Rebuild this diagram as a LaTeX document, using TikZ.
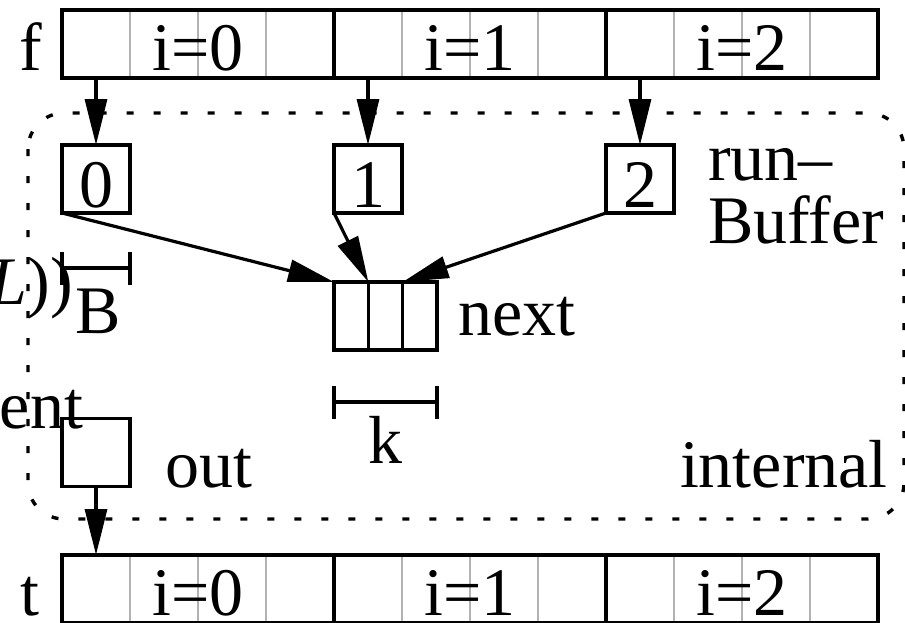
\documentclass[tikz,border=0pt]{standalone}
\usepackage{fontspec}
\setmainfont{Liberation Serif}
\usetikzlibrary{arrows.meta}
\newcommand{\figfont}{\fontsize{68pt}{72pt}\selectfont}
\tikzset{
  lw/.style={line width=3.2pt},
  cell/.style={draw=none, minimum width=68pt, minimum height=68pt, inner sep=0pt, outer sep=0pt},
  ncell/.style={draw, lw, minimum width=34.33pt, minimum height=68pt, inner sep=0pt, outer sep=0pt},
  bufbox/.style={draw, lw, minimum width=68pt, minimum height=68pt, inner sep=0pt, outer sep=0pt,
    font=\figfont, text height=56pt, text depth=0pt},
  divider/.style={draw=black!30, line width=2.4pt},
  blockframe/.style={draw, lw},
  arr/.style={lw, -{Triangle[length=46pt, width=22pt]}, shorten >=0pt},
  txt/.style={font=\figfont, inner sep=0pt, outer sep=0pt},
  frame/.style={line width=3.4pt, dash pattern=on 7pt off 20pt, rounded corners=36pt},
  dim/.style={lw},
}
\begin{document}
\begin{tikzpicture}[x=1pt, y=-1pt]
\useasboundingbox (0,0) rectangle (905,622);
\clip (0,0) rectangle (905,622);

% dotted outline of the internal memory
\draw[frame] (28,113) rectangle (904,519);

% input array f and output array t: 12 cells in 3 blocks of 4
\foreach \i in {0,...,11} {
  \node[cell] (f\i) at (96+68*\i, 44) {};
  \node[cell] (t\i) at (96+68*\i, 589) {};
}
\foreach \a/\b in {0/1,1/2,2/3,4/5,5/6,6/7,8/9,9/10,10/11} {
  \draw[divider] (f\a.north east) -- (f\a.south east);
  \draw[divider] (t\a.north east) -- (t\a.south east);
}
\foreach \s/\e/\m/\k in {0/3/1/0, 4/7/5/1, 8/11/9/2} {
  \draw[blockframe] (f\s.north west) rectangle (f\e.south east);
  \draw[blockframe] (t\s.north west) rectangle (t\e.south east);
  \node[txt, anchor=base] (fl\k) at (f\m.east |- 0,70) {i=\k};
  \node[txt, anchor=base] (tl\k) at (t\m.east |- 0,615) {i=\k};
}
\node[txt, anchor=base] (flab) at (31,70) {f};
\node[txt, anchor=base] (tlab) at (30,615) {t};

% run buffers
\node[bufbox] (b0) at (96,179) {0};
\node[bufbox] (b1) at (368,179) {1};
\node[bufbox] (b2) at (640,179) {2};
\node[txt, anchor=base west] (runl) at (708,180) {run–};
\node[txt, anchor=base west] (bufl) at (708,243) {Buffer};

% next buffer with k entries
\node[ncell] (n0) at (351.17,316) {};
\node[ncell] (n1) at (385.5,316) {};
\node[ncell] (n2) at (419.83,316) {};
\node[txt, anchor=base west] (nextl) at (458,335) {next};

% output buffer
\node[bufbox] (out) at (96,452.5) {};
\node[txt, anchor=base west] (outl) at (165,487) {out};
\node[txt, anchor=base west] (intl) at (680,487) {internal};

% side notes running in from the left
\node[txt, anchor=base east] (ment) at (83,428) {ment};
\node[txt, anchor=base east] (lnote) at (73,304) {\textit{L}))};

% size markers B and k
\coordinate (bl) at (62,268);
\coordinate (br) at (130,268);
\draw[dim] (bl) -- (br);
\draw[dim] ([yshift=-17pt]bl) -- ([yshift=16pt]bl);
\draw[dim] ([yshift=-17pt]br) -- ([yshift=16pt]br);
\node[txt, anchor=base west] (bsz) at (75,333) {B};

\coordinate (kl) at (334,402);
\coordinate (kr) at (437,402);
\draw[dim] (kl) -- (kr);
\draw[dim] ([yshift=-17pt]kl) -- ([yshift=16pt]kl);
\draw[dim] ([yshift=-17pt]kr) -- ([yshift=16pt]kr);
\node[txt, anchor=base] (ksz) at (385.5,463) {k};

% data flow
\draw[arr] (f0.south) -- (b0.north);
\draw[arr] (f4.south) -- (b1.north);
\draw[arr] (f8.south) -- (b2.north);
\draw[arr] (b0.south west) -- (n0.north west);
\draw[arr] (b1.south west) -- (n1.north west);
\draw[arr] (b2.south west) -- (n2.north west);
\draw[arr] (out.south) -- (t0.north);
\end{tikzpicture}
\end{document}
